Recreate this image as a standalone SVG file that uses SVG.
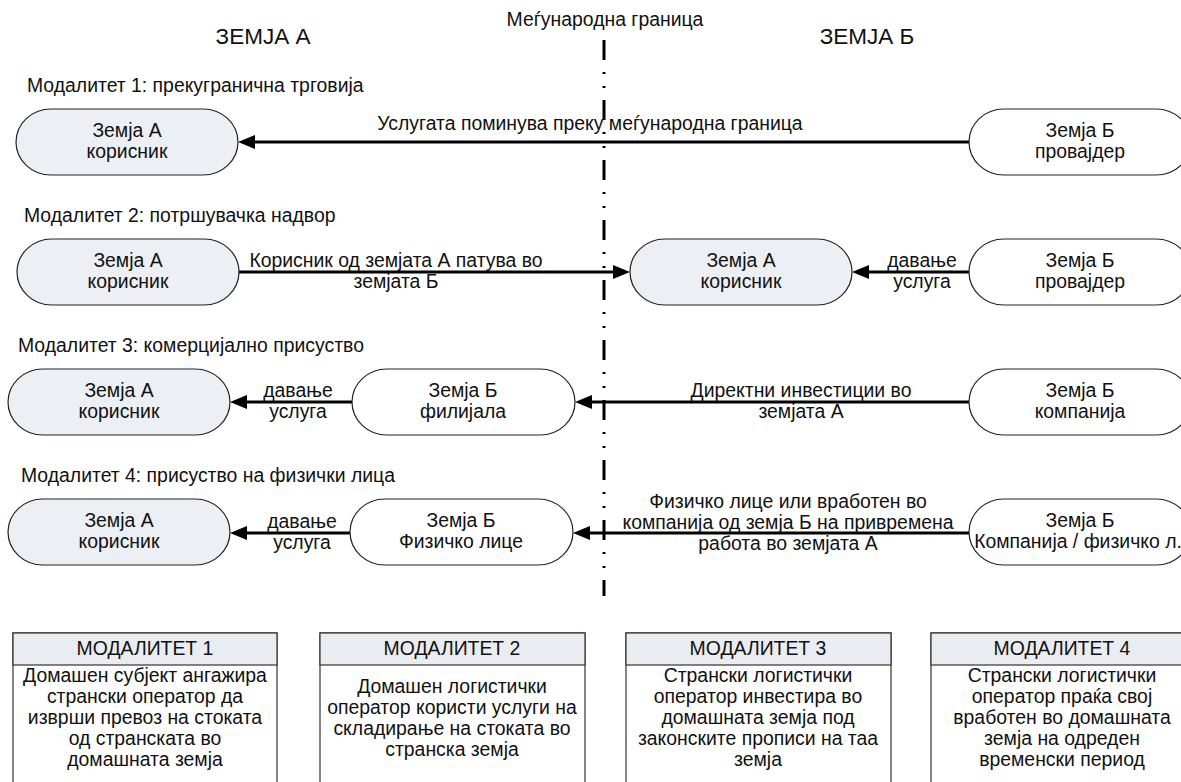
<svg xmlns="http://www.w3.org/2000/svg" width="1181" height="782" viewBox="0 0 1181 782">
<defs>
<marker id="ah" markerUnits="userSpaceOnUse" markerWidth="18" markerHeight="16" refX="7" refY="7" orient="auto">
<path d="M0,0 L17,7 L0,14 Z" fill="#000"/>
</marker>
<style>
text{font-family:"Liberation Sans",Arial,sans-serif;font-size:19.4px;fill:#111}
.title{font-size:22.5px}
.c{text-anchor:middle}
.na{fill:#ECEFF4;stroke:#222;stroke-width:1.2}
.nb{fill:#fff;stroke:#222;stroke-width:1.2}
.conn{stroke:#000;stroke-width:3;fill:none;marker-end:url(#ah)}
.border{stroke:#000;stroke-width:3;fill:none;stroke-dasharray:20 12 2 12 2 12}
.box{fill:#fff;stroke:#333;stroke-width:1.2}
.hdr{fill:#E9ECF0;stroke:#333;stroke-width:1.2}
</style>
</defs>
<rect width="1181" height="782" fill="#fff"/>

<g id="headings">
<text class="title c" x="263" y="44">ЗЕМЈА А</text>
<text class="title c" x="867" y="44">ЗЕМЈА Б</text>
<text class="c" x="605" y="26">Меѓународна граница</text>
<text x="27" y="92">Модалитет 1: прекугранична трговија</text>
<text x="24" y="222">Модалитет 2: потршувачка надвор</text>
<text x="18" y="352">Модалитет 3: комерцијално присуство</text>
<text x="21" y="482">Модалитет 4: присуство на физички лица</text>
</g>

<g id="connectors">
<line class="conn" x1="969" y1="142" x2="248" y2="142"/>
<text class="c" x="590" y="130">Услугата поминува преку меѓународна граница</text>

<line class="conn" x1="239" y1="272" x2="620" y2="272"/>
<text class="c" x="396" y="267">Корисник од земјата А патува во</text>
<text class="c" x="396" y="288">земјата Б</text>
<line class="conn" x1="969" y1="272" x2="862" y2="272"/>
<text class="c" x="922" y="267">давање</text>
<text class="c" x="922" y="288">услуга</text>

<line class="conn" x1="969" y1="402" x2="585" y2="402"/>
<text class="c" x="801" y="397">Директни инвестиции во</text>
<text class="c" x="801" y="418">земјата А</text>
<line class="conn" x1="352" y1="402" x2="240" y2="402"/>
<text class="c" x="298" y="397">давање</text>
<text class="c" x="298" y="418">услуга</text>

<line class="conn" x1="969" y1="533" x2="583" y2="533"/>
<text class="c" x="788" y="508">Физичко лице или вработен во</text>
<text class="c" x="788" y="529">компанија од земја Б на привремена</text>
<text class="c" x="788" y="550">работа во земјата А</text>
<line class="conn" x1="350" y1="533" x2="240" y2="533"/>
<text class="c" x="302" y="528">давање</text>
<text class="c" x="302" y="549">услуга</text>
</g>

<g id="border">
<line class="border" x1="604" y1="40" x2="604" y2="596"/>
</g>

<g id="n1a"><rect class="na" x="16" y="109" width="222" height="66" rx="35" ry="33"/>
<text class="c" x="127" y="137">Земја А</text><text class="c" x="127" y="158">корисник</text></g>
<g id="n1b"><rect class="nb" x="969" y="109" width="222" height="66" rx="35" ry="33"/>
<text class="c" x="1080" y="137">Земја Б</text><text class="c" x="1080" y="158">провајдер</text></g>

<g id="n2a"><rect class="na" x="17" y="239" width="222" height="66" rx="35" ry="33"/>
<text class="c" x="128" y="267">Земја А</text><text class="c" x="128" y="288">корисник</text></g>
<g id="n2m"><rect class="na" x="630" y="239" width="222" height="66" rx="35" ry="33"/>
<text class="c" x="741" y="267">Земја А</text><text class="c" x="741" y="288">корисник</text></g>
<g id="n2b"><rect class="nb" x="969" y="239" width="222" height="66" rx="35" ry="33"/>
<text class="c" x="1080" y="267">Земја Б</text><text class="c" x="1080" y="288">провајдер</text></g>

<g id="n3a"><rect class="na" x="8" y="369" width="222" height="66" rx="35" ry="33"/>
<text class="c" x="119" y="397">Земја А</text><text class="c" x="119" y="418">корисник</text></g>
<g id="n3m"><rect class="nb" x="352" y="369" width="223" height="66" rx="35" ry="33"/>
<text class="c" x="463" y="397">Земја Б</text><text class="c" x="463" y="418">филијала</text></g>
<g id="n3b"><rect class="nb" x="969" y="369" width="222" height="66" rx="35" ry="33"/>
<text class="c" x="1080" y="397">Земја Б</text><text class="c" x="1080" y="418">компанија</text></g>

<g id="n4a"><rect class="na" x="8" y="499" width="222" height="66" rx="35" ry="33"/>
<text class="c" x="119" y="527">Земја А</text><text class="c" x="119" y="548">корисник</text></g>
<g id="n4m"><rect class="nb" x="350" y="499" width="223" height="66" rx="35" ry="33"/>
<text class="c" x="461" y="527">Земја Б</text><text class="c" x="461" y="548">Физичко лице</text></g>
<g id="n4b"><rect class="nb" x="969" y="499" width="222" height="66" rx="35" ry="33"/>
<text class="c" x="1080" y="527">Земја Б</text><text class="c" x="1078" y="548">Компанија / физичко л.</text></g>

<g id="box1"><rect class="box" x="13" y="633" width="264" height="160"/><rect class="hdr" x="13" y="633" width="264" height="32"/>
<text class="c" x="145" y="655">МОДАЛИТЕТ 1</text>
<text class="c" x="145" y="682">Домашен субјект ангажира</text>
<text class="c" x="145" y="703">странски оператор да</text>
<text class="c" x="145" y="724">изврши превоз на стоката</text>
<text class="c" x="145" y="745">од странската во</text>
<text class="c" x="145" y="766">домашната земја</text></g>

<g id="box2"><rect class="box" x="320" y="633" width="265" height="160"/><rect class="hdr" x="320" y="633" width="265" height="32"/>
<text class="c" x="452" y="655">МОДАЛИТЕТ 2</text>
<text class="c" x="452" y="693">Домашен логистички</text>
<text class="c" x="452" y="714">оператор користи услуги на</text>
<text class="c" x="452" y="735">складирање на стоката во</text>
<text class="c" x="452" y="756">странска земја</text></g>

<g id="box3"><rect class="box" x="626" y="633" width="265" height="160"/><rect class="hdr" x="626" y="633" width="265" height="32"/>
<text class="c" x="758" y="655">МОДАЛИТЕТ 3</text>
<text class="c" x="758" y="682">Странски логистички</text>
<text class="c" x="758" y="703">оператор инвестира во</text>
<text class="c" x="758" y="724">домашната земја под</text>
<text class="c" x="758" y="745">законските прописи на таа</text>
<text class="c" x="758" y="766">земја</text></g>

<g id="box4"><rect class="box" x="931" y="633" width="262" height="160"/><rect class="hdr" x="931" y="633" width="262" height="32"/>
<text class="c" x="1062" y="655">МОДАЛИТЕТ 4</text>
<text class="c" x="1062" y="682">Странски логистички</text>
<text class="c" x="1062" y="703">оператор праќа свој</text>
<text class="c" x="1062" y="724">вработен во домашната</text>
<text class="c" x="1062" y="745">земја на одреден</text>
<text class="c" x="1062" y="766">временски период</text></g>
</svg>
